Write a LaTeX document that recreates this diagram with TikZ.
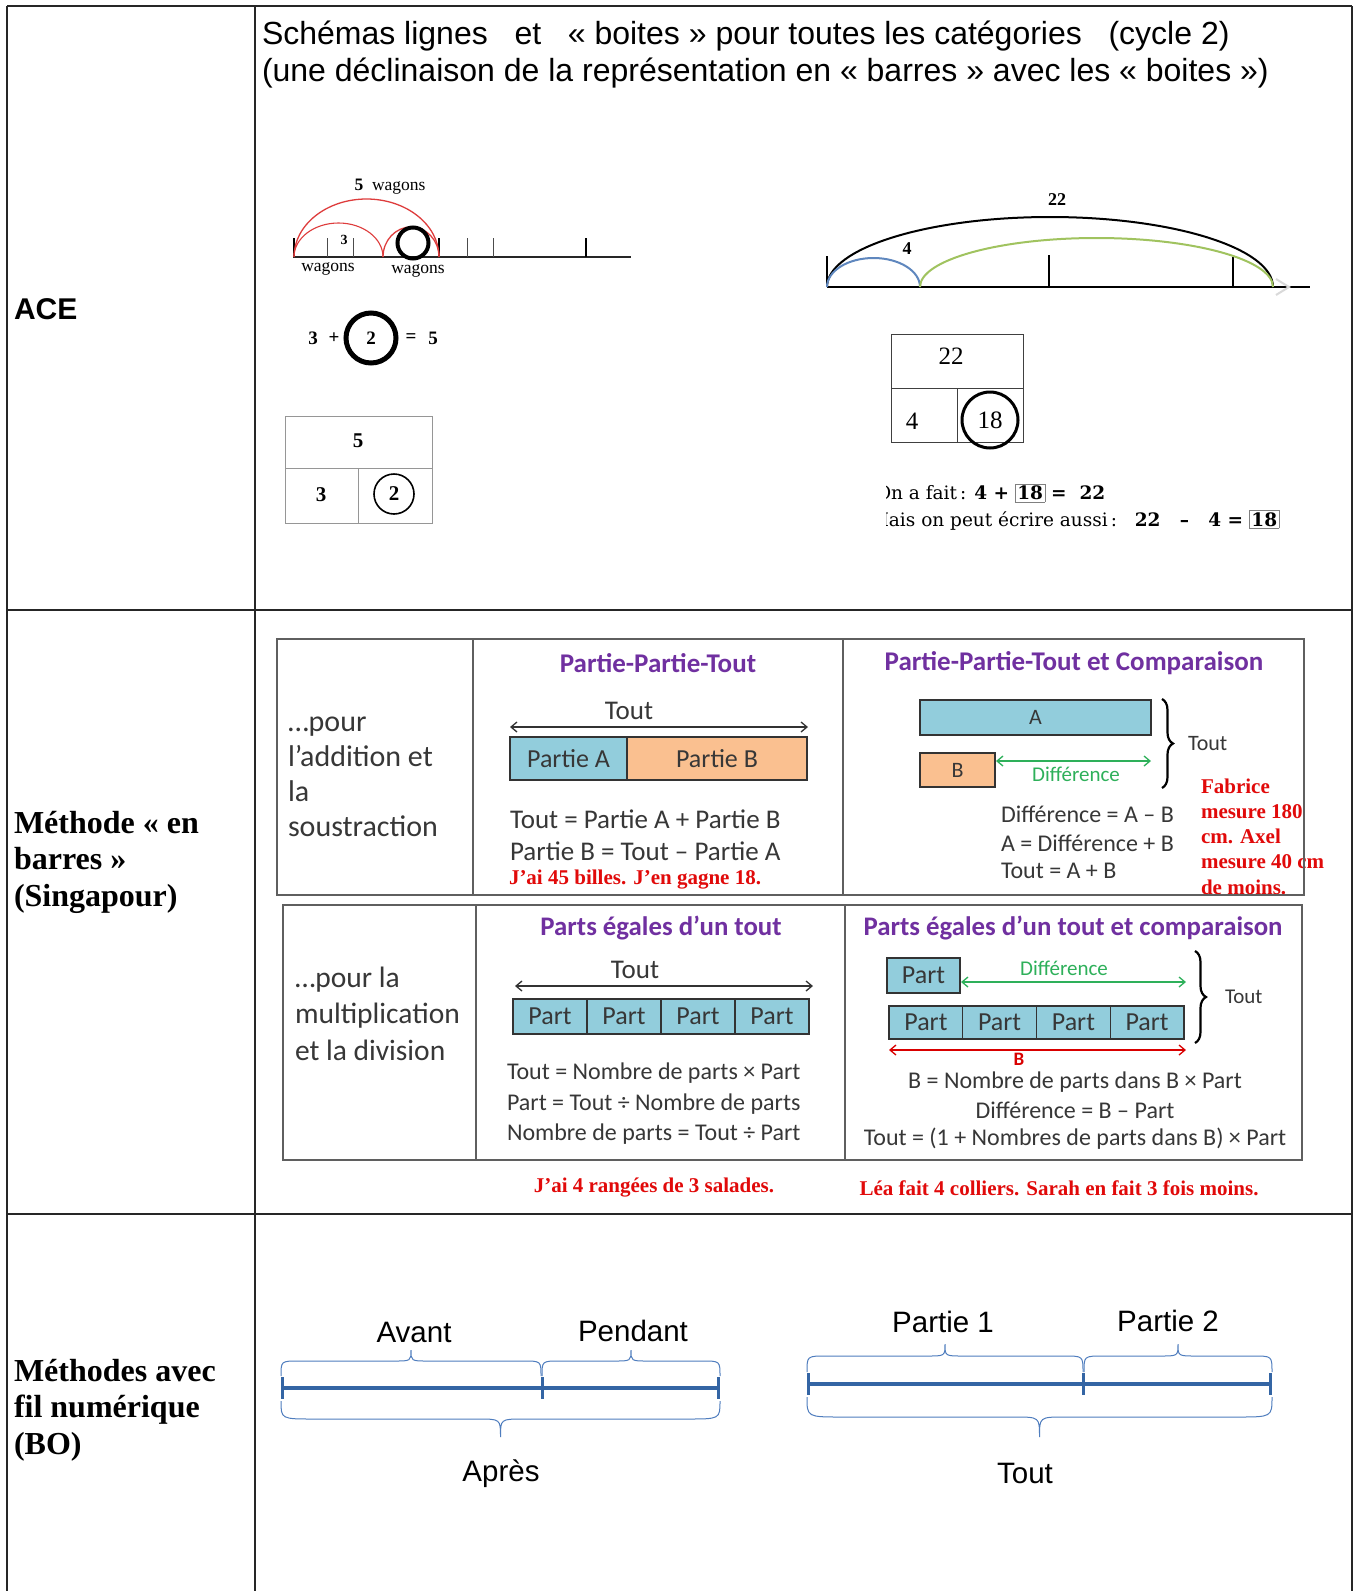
\documentclass[tikz,border=0pt]{standalone}
\usepackage{fontspec}
\setmainfont{Liberation Serif}
\newfontfamily\arialf{Liberation Sans}
\newfontfamily\calibf{Carlito}
\newfontfamily\camf{DejaVu Serif}
\usetikzlibrary{arrows.meta,decorations.pathreplacing}
\definecolor{purp}{RGB}{112,48,160}
\definecolor{aqua}{RGB}{146,205,220}
\definecolor{peach}{RGB}{250,192,144}
\definecolor{grn}{RGB}{46,176,90}
\definecolor{redc}{RGB}{225,10,10}
\definecolor{txtg}{RGB}{55,55,55}
\definecolor{arcred}{RGB}{222,60,60}
\definecolor{arcblue}{RGB}{95,135,190}
\definecolor{arcgreen}{RGB}{160,195,95}
\definecolor{boblue}{RGB}{52,101,164}
\definecolor{bobrace}{RGB}{79,125,190}
\definecolor{tabgray}{RGB}{95,95,95}
\definecolor{boxgray}{RGB}{150,150,150}
\setlength{\fboxsep}{1.5pt}
\setlength{\fboxrule}{0.8pt}
\newcommand\mybrace[7]{% x1,x2,yend,ymid,ytip,r,s
  \draw[bobr] (#1,#3) .. controls (#1,#4) .. ({#1+#6},#4) -- ({(#1+#2)/2-#7},#4)
    .. controls ({(#1+#2)/2},#4) .. ({(#1+#2)/2},#5)
    .. controls ({(#1+#2)/2},#4) .. ({(#1+#2)/2+#7},#4) -- ({#2-#6},#4)
    .. controls (#2,#4) .. (#2,#3);}
\tikzset{
  plain/.style={inner sep=0pt, outer sep=0pt},
  grid/.style={line width=1.2pt, black!85},
  hdr/.style={plain, anchor=west, font=\arialf\fontsize{32}{38}\selectfont},
  rowlbl/.style={plain, anchor=west, align=left, font=\bfseries\fontsize{32}{36.5}\selectfont},
  acew/.style={plain, font=\fontsize{17.5}{18}\selectfont},
  eqt/.style={plain, font=\bfseries\fontsize{19}{19}\selectfont},
  boxl/.style={boxgray, line width=1pt},
  calf/.style={plain, text=txtg, font=\calibf\fontsize{24}{28}\selectfont},
  ttl/.style={plain, text=purp, font=\calibf\bfseries\fontsize{27}{30}\selectfont},
  bar/.style={draw=black!80, line width=1.3pt, plain, text=txtg, font=\calibf\fontsize{26}{26}\selectfont},
  partb/.style={bar, fill=aqua, font=\calibf\fontsize{26}{26}\selectfont},
  dblk/.style={{Straight Barb[length=6pt,width=10pt]}-{Straight Barb[length=6pt,width=10pt]}, line width=1.3pt, black!80},
  dblg/.style={dblk, grn},
  dblr/.style={dblk, red!85!black},
  redt/.style={plain, text=redc, font=\bfseries\fontsize{21}{25.3}\selectfont},
  brc/.style={decorate, decoration={brace, amplitude=11pt}, line width=2.2pt},
  tabl/.style={tabgray, line width=2pt},
  boline/.style={boblue, line width=4pt},
  botick/.style={boblue, line width=3pt},
  bobr/.style={bobrace, line width=1pt},
  bot/.style={plain, font=\arialf\fontsize{29.5}{30}\selectfont},
}
\begin{document}
\begin{tikzpicture}[x=1pt,y=-1pt]
\fill[white] (0,0) rectangle (1357,1591);
\useasboundingbox (0,0) rectangle (1357,1591);

% ---------- outer grid
\draw[grid] (7,6) -- (1352,6);
\draw[grid] (7,610) -- (1352,610);
\draw[grid] (7,1214) -- (1352,1214);
\draw[grid] (7,6) -- (7,1591);
\draw[grid] (255,6) -- (255,1591);
\draw[grid] (1352,6) -- (1352,1591);

% ---------- header
\node[hdr] (h1) at (262,36) {Schémas lignes\ \ \ et\ \ \ « boites » pour toutes les catégories\ \ \ (cycle 2)};
\node[hdr] (h2) at (262,73) {(une déclinaison de la représentation en « barres » avec les « boites »)};

% ---------- row labels
\node[plain, anchor=west, font=\arialf\bfseries\fontsize{30}{30}\selectfont] (ace) at (14,309) {ACE};
\node[rowlbl] (sing) at (14,862) {Méthode « en\\barres »\\(Singapour)};
\node[rowlbl] (bo) at (14,1410) {Méthodes avec\\fil numérique\\(BO)};

% ---------- ACE left
\draw[line width=1.3pt, black!85] (293,257) -- (631,257);
\draw[line width=2pt] (294,238) -- (294,257);
\foreach \t in {327,353,467,493} \draw[line width=0.8pt, black!70] (\t,238) -- (\t,257);
\foreach \t in {439,586} \draw[line width=1.5pt] (\t,238) -- (\t,257);
\draw[arcred, line width=1.3pt] (294,257) arc[start angle=180, end angle=0, x radius=72.5pt, y radius=58pt];
\draw[arcred, line width=1.1pt] (294,257) arc[start angle=180, end angle=0, x radius=44.5pt, y radius=34pt];
\draw[arcred, line width=1.3pt] (383,257) arc[start angle=180, end angle=0, x radius=28pt, y radius=30pt];
\node[circle, draw, line width=4pt, minimum size=31pt, plain] (c2a) at (413,243) {};
\node[acew] (w5) at (390,187) {\textbf{5}\ \ wagons};
\node[plain, font=\bfseries\fontsize{14}{14}\selectfont] (w3) at (344,240) {3};
\node[acew] (wl) at (328,269) {wagons};
\node[acew] (wr) at (418,271) {wagons};

\node[eqt] (e3) at (313,338) {3};
\node[eqt] (eplus) at (334,338) {+};
\node[circle, draw, line width=5pt, minimum size=50pt, eqt] (e2) at (371,338) {2};
\node[eqt] (eeq) at (411,338) {=};
\node[eqt] (e5) at (433,338) {5};

\draw[boxl] (285,416) rectangle (432,523);
\draw[boxl] (285,468) -- (432,468);
\draw[boxl] (358,468) -- (358,523);
\node[plain, font=\bfseries\fontsize{21}{21}\selectfont] (b5) at (358,441) {5};
\node[plain, font=\bfseries\fontsize{21}{21}\selectfont] (b3) at (321,495) {3};
\node[circle, draw, line width=1.6pt, minimum size=40pt, plain, font=\bfseries\fontsize{21}{21}\selectfont] (b2) at (394,494) {2};

% ---------- ACE right
\draw[line width=1.6pt] (827,287) -- (1310,287);
\draw[gray!30, line width=2pt] (1276,279) -- (1289,287) -- (1276,295);
\draw[line width=2pt] (827,256) -- (827,287);
\draw[line width=2pt] (1049,255) -- (1049,287);
\draw[line width=2pt] (1233,257) -- (1233,287);
\draw[line width=2pt] (827,287) arc[start angle=180, end angle=0, x radius=223pt, y radius=70pt];
\draw[arcblue, line width=2pt] (827,287) arc[start angle=180, end angle=0, x radius=46.5pt, y radius=29pt];
\draw[arcgreen, line width=2pt] (920,287) arc[start angle=180, end angle=0, x radius=176.5pt, y radius=49pt];
\node[plain, font=\bfseries\fontsize{18}{18}\selectfont] (n22) at (1057,200) {22};
\node[plain, font=\bfseries\fontsize{18}{18}\selectfont] (n4) at (907,249) {4};

\draw[black!75, line width=1pt] (891,334) rectangle (1023,442);
\draw[black!75, line width=1pt] (891,388) -- (1023,388);
\draw[black!75, line width=1pt] (957,388) -- (957,442);
\node[plain, font=\fontsize{25}{25}\selectfont] (r22) at (951,356) {22};
\node[plain, font=\fontsize{25}{25}\selectfont] (r4) at (912,421) {4};
\node[circle, draw, line width=3pt, minimum size=56pt, plain, font=\fontsize{25}{25}\selectfont] (r18) at (990,420) {18};

\begin{scope}
\clip (886,470) rectangle (1300,545);
\node[plain, anchor=west, font=\camf\fontsize{18.5}{18.5}\selectfont] (l1) at (876,493) {On a fait\,: \textbf{4 +} \fcolorbox{gray}{white}{\textbf{18}} \textbf{=\ \ 22}};
\node[plain, anchor=west, font=\camf\fontsize{18.5}{18.5}\selectfont] (l2) at (870,520) {Mais on peut écrire aussi\,:\ \ \ \textbf{22\ \ \ –\ \ \ 4 =} \fcolorbox{gray}{white}{\textbf{18}}};
\end{scope}

% ---------- Singapore top table
\node[plain, anchor=west, align=left, text=txtg, font=\calibf\fontsize{30}{35}\selectfont] (addl) at (288,777) {…pour\\l’addition et\\la\\soustraction};
\node[ttl] (t1) at (658,663) {Partie-Partie-Tout};
\node[calf, font=\calibf\fontsize{27}{27}\selectfont] (tout1) at (629,711) {Tout};
\coordinate (a1l) at (510,727);
\coordinate (a1r) at (808,727);
\draw[dblk] (a1l) -- (a1r);
\node[bar, fill=aqua, minimum width=117pt, minimum height=43pt] (pa) at (568.5,758.5) {Partie A};
\node[bar, fill=peach, minimum width=180pt, minimum height=43pt] (pb) at (717,758.5) {Partie B};
\node[calf, anchor=west, font=\calibf\fontsize{27}{28}\selectfont] (f1) at (510,819) {Tout = Partie A + Partie B};
\node[calf, anchor=west, font=\calibf\fontsize{27}{28}\selectfont] (f2) at (510,851) {Partie B = Tout – Partie A};
\node[redt, anchor=west] (r1) at (509,880) {J’ai 45 billes. J’en gagne 18.};

\node[ttl] (t2) at (1074,663) {Partie-Partie-Tout et Comparaison};
\node[bar, fill=aqua, minimum width=231pt, minimum height=35pt, font=\calibf\fontsize{22}{22}\selectfont] (ba) at (1035.5,717.5) {A};
\node[bar, fill=peach, minimum width=75pt, minimum height=34pt, font=\calibf\fontsize{22}{22}\selectfont] (bb) at (957.5,770) {B};
\coordinate (dl) at (996,761);
\coordinate (dr) at (1151,761);
\draw[dblg] (dl) -- (dr);
\node[plain, text=grn, font=\calibf\fontsize{21}{21}\selectfont] (diff1) at (1076,774) {Différence};
\draw[brc] (1162,699) -- (1162,788);
\node[plain, anchor=west, text=txtg, font=\calibf\fontsize{22}{22}\selectfont] (tout2) at (1188,744) {Tout};
\node[calf, anchor=west] (g1) at (1001,814) {Différence = A – B};
\node[calf, anchor=west] (g2) at (1001,843) {A = Différence + B};
\node[calf, anchor=west] (g3) at (1001,871) {Tout = A + B};
\node[redt, anchor=west, align=left] (fab) at (1201,836.5) {Fabrice\\mesure 180\\cm. Axel\\mesure 40 cm\\de moins.};

\draw[tabl] (277,639) rectangle (1304,895);
\draw[tabl] (473,639) -- (473,895);
\draw[tabl] (843,639) -- (843,895);

% ---------- Singapore bottom table
\filldraw[tabl, fill=white] (283,905) rectangle (1302,1160);
\draw[tabl] (476,905) -- (476,1160);
\draw[tabl] (845,905) -- (845,1160);

\node[plain, anchor=west, align=left, text=txtg, font=\calibf\fontsize{29.5}{36.5}\selectfont] (mull) at (295,1013.5) {…pour la\\multiplication\\et la division};
\node[ttl, font=\calibf\bfseries\fontsize{26.8}{30}\selectfont] (t3) at (661,928) {Parts égales d’un tout};
\node[calf, font=\calibf\fontsize{27}{27}\selectfont] (tout3) at (635,970) {Tout};
\coordinate (a3l) at (515,986);
\coordinate (a3r) at (813,986);
\draw[dblk] (a3l) -- (a3r);
\node[partb, minimum width=74pt, minimum height=35pt] (q1) at (550,1016.5) {Part};
\node[partb, minimum width=74pt, minimum height=35pt] (q2) at (624,1016.5) {Part};
\node[partb, minimum width=74pt, minimum height=35pt] (q3) at (698,1016.5) {Part};
\node[partb, minimum width=74pt, minimum height=35pt] (q4) at (772,1016.5) {Part};
\node[calf, anchor=west] (m1) at (507,1073) {Tout = Nombre de parts × Part};
\node[calf, anchor=west] (m2) at (507,1104) {Part = Tout ÷ Nombre de parts};
\node[calf, anchor=west] (m3) at (507,1134) {Nombre de parts = Tout ÷ Part};

\node[ttl, font=\calibf\bfseries\fontsize{26.8}{30}\selectfont] (t4) at (1073,928) {Parts égales d’un tout et comparaison};
\node[partb, minimum width=73pt, minimum height=35pt] (s0) at (923.5,975.5) {Part};
\coordinate (d2l) at (961,982);
\coordinate (d2r) at (1186,982);
\draw[dblg] (d2l) -- (d2r);
\node[plain, text=grn, font=\calibf\fontsize{21}{21}\selectfont] (diff2) at (1064,968) {Différence};
\node[partb, minimum width=73.75pt, minimum height=33pt] (s1) at (925.9,1022.5) {Part};
\node[partb, minimum width=73.75pt, minimum height=33pt] (s2) at (999.6,1022.5) {Part};
\node[partb, minimum width=73.75pt, minimum height=33pt] (s3) at (1073.4,1022.5) {Part};
\node[partb, minimum width=73.75pt, minimum height=33pt] (s4) at (1147.1,1022.5) {Part};
\coordinate (b2l) at (889,1050);
\coordinate (b2r) at (1186,1050);
\draw[dblr] (b2l) -- (b2r);
\node[plain, text=red!85!black, font=\calibf\bfseries\fontsize{19}{19}\selectfont] (bl) at (1019,1059) {B};
\draw[brc] (1195,951) -- (1195,1043);
\node[plain, anchor=west, text=txtg, font=\calibf\fontsize{21}{21}\selectfont] (tout4) at (1225,997) {Tout};
\node[calf] (k1) at (1075,1082) {B = Nombre de parts dans B × Part};
\node[calf] (k2) at (1075,1110) {Différence = B – Part};
\node[calf] (k3) at (1075,1139) {Tout = (1 + Nombres de parts dans B) × Part};

\node[redt] (sal) at (654,1188) {J’ai 4 rangées de 3 salades.};
\node[redt] (lea) at (1059,1188) {Léa fait 4 colliers. Sarah en fait 3 fois moins.};

% ---------- BO left
\draw[boline] (282,1388) -- (718,1388);
\draw[botick] (282,1377) -- (282,1399);
\draw[botick] (542,1377) -- (542,1399);
\draw[botick] (718,1377) -- (718,1399);
\mybrace{281}{541}{1376}{1361}{1350}{18}{17}
\mybrace{542}{720}{1376}{1361}{1350}{18}{17}
\mybrace{281}{720}{1401}{1419}{1437}{33}{23}
\node[bot] (avant) at (414,1332) {Avant};
\node[bot] (pendant) at (633,1331) {Pendant};
\node[bot] (apres) at (501,1474) {Après};

% ---------- BO right
\draw[boline] (808,1384) -- (1270,1384);
\draw[botick] (808,1373) -- (808,1395);
\draw[botick] (1083,1373) -- (1083,1395);
\draw[botick] (1270,1373) -- (1270,1395);
\mybrace{807}{1083}{1372}{1356}{1344}{19}{18}
\mybrace{1084}{1272}{1372}{1356}{1344}{19}{18}
\mybrace{807}{1272}{1397}{1417}{1437}{35}{25}
\node[bot] (p1) at (943,1322) {Partie 1};
\node[bot] (p2) at (1168,1321) {Partie 2};
\node[bot] (tt) at (1025,1473) {Tout};
\end{tikzpicture}
\end{document}
